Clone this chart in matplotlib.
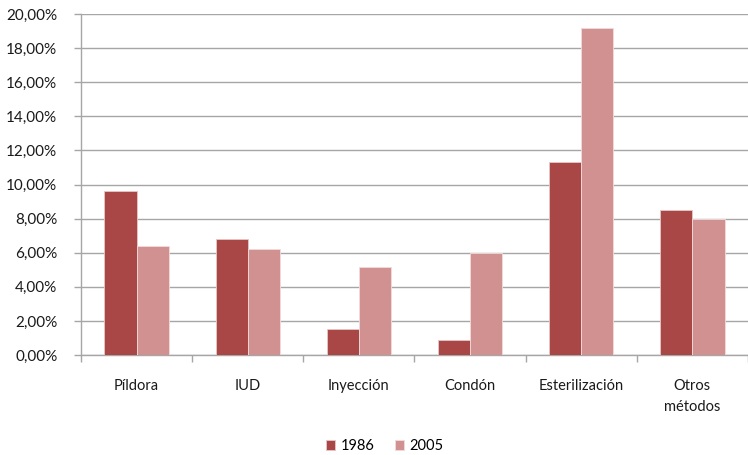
import matplotlib
matplotlib.use("Agg")
import matplotlib.pyplot as plt
from matplotlib.ticker import FuncFormatter, FixedLocator
import numpy as np

categories = ["Píldora", "IUD", "Inyección", "Condón", "Esterilización", "Otros\nmétodos"]
series_1986 = [9.64, 6.80, 1.51, 0.86, 11.32, 8.49]
series_2005 = [6.37, 6.24, 5.18, 6.00, 19.16, 7.96]
series_names = ["1986", "2005"]
y_ticks = [0, 2, 4, 6, 8, 10, 12, 14, 16, 18, 20]

col_1986 = "#A94747"
col_2005 = "#D29191"
grid_col = "#A6A6A6"

plt.rcParams["font.family"] = ["Lato", "DejaVu Sans"]

W, H = 748, 455
fig = plt.figure(figsize=(W / 100, H / 100), dpi=100)
ax = fig.add_axes([81 / W, 1 - 355 / H, (W - 81) / W, (355 - 14) / H])

x = np.arange(len(categories))
bw = 0.289
ax.bar(x - bw / 2, series_1986, width=bw, color=col_1986, edgecolor="#E8C8C8",
       linewidth=0.6, label=series_names[0], zorder=3)
ax.bar(x + bw / 2, series_2005, width=bw, color=col_2005, edgecolor="#F2DCDC",
       linewidth=0.6, label=series_names[1], zorder=3)

cat_w = 112.4
ax.set_xlim(-0.5, -0.5 + (W - 81) / cat_w)
ax.set_ylim(0, 20)

ax.yaxis.set_major_locator(FixedLocator(y_ticks))
ax.yaxis.set_major_formatter(FuncFormatter(lambda v, p: f"{v:.2f}%".replace(".", ",")))
ax.grid(axis="y", color=grid_col, linewidth=1.0, zorder=0)

# category boundary ticks on the x axis
ax.set_xticks(np.arange(-0.5, len(categories), 1.0))
ax.set_xticklabels([])
ax.tick_params(axis="x", length=5, width=1, color=grid_col, direction="out")
ax.tick_params(axis="y", length=5, width=1, color=grid_col, direction="out",
               labelsize=11, labelcolor="#1a1a1a", pad=12)

for i, c in enumerate(categories):
    ax.annotate(c, xy=(i, 0), xycoords="data", xytext=(0, -24),
                textcoords="offset pixels", ha="center", va="top",
                fontsize=10.5, color="#1a1a1a", linespacing=1.65)

for s in ["top", "right"]:
    ax.spines[s].set_visible(False)
ax.spines["left"].set_color(grid_col)
ax.spines["left"].set_linewidth(1.0)
ax.spines["bottom"].set_color(grid_col)
ax.spines["bottom"].set_linewidth(1.0)

fig.legend(loc="center", bbox_to_anchor=(385 / W, 1 - 446 / H), ncol=2, frameon=False,
           fontsize=10.5, handlelength=0.6, handleheight=0.75, handletextpad=0.4,
           columnspacing=1.4)

fig.savefig("out.png", dpi=100)
